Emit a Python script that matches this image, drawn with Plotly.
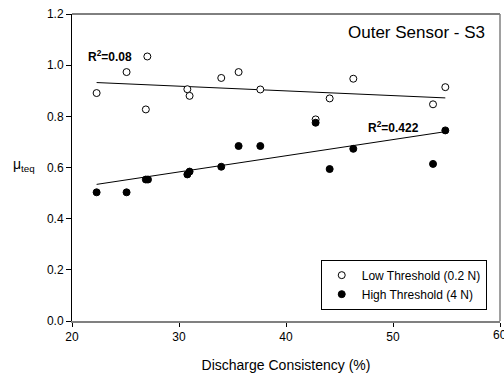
import numpy as np
import plotly.graph_objects as go

# Data
low_x = [22.3, 25.1, 27.04, 26.9, 30.78, 30.99, 33.95, 35.57, 37.6, 42.77, 44.08, 46.29, 53.74, 54.89]
low_y = [0.891, 0.973, 1.034, 0.827, 0.906, 0.880, 0.950, 0.973, 0.905, 0.788, 0.870, 0.947, 0.847, 0.914]
high_x = [22.3, 25.1, 26.9, 27.1, 30.78, 30.99, 33.95, 35.57, 37.6, 42.77, 44.08, 46.29, 53.74, 54.89]
high_y = [0.503, 0.503, 0.553, 0.553, 0.573, 0.584, 0.603, 0.684, 0.684, 0.775, 0.594, 0.673, 0.614, 0.745]

# regression line end points as drawn in the reference
low_fit_x = [22.3, 54.89]
low_fit_y = [0.932, 0.872]
high_fit_x = [22.3, 54.89]
high_fit_y = [0.534, 0.740]

x_ticks = [20, 30, 40, 50, 60]
y_ticks = [0.0, 0.2, 0.4, 0.6, 0.8, 1.0, 1.2]

FONT = "Liberation Sans, Arial, sans-serif"

fig = go.Figure()
fig.add_trace(go.Scatter(x=low_fit_x, y=low_fit_y, mode="lines",
                         line=dict(color="black", width=1), showlegend=False, hoverinfo="skip"))
fig.add_trace(go.Scatter(x=high_fit_x, y=high_fit_y, mode="lines",
                         line=dict(color="black", width=1), showlegend=False, hoverinfo="skip"))
fig.add_trace(go.Scatter(x=low_x, y=low_y, mode="markers", name="Low Threshold (0.2 N)",
                         marker=dict(symbol="circle", size=7, color="white",
                                     line=dict(color="black", width=1))))
fig.add_trace(go.Scatter(x=high_x, y=high_y, mode="markers", name="High Threshold (4 N)",
                         marker=dict(symbol="circle", size=7, color="black",
                                     line=dict(color="black", width=1))))

fig.update_layout(
    width=504, height=373,
    margin=dict(l=72, r=4, t=14, b=52, autoexpand=False),
    paper_bgcolor="white", plot_bgcolor="white",
    font=dict(family=FONT, size=12, color="black"),
    xaxis=dict(range=[20, 60], tickvals=x_ticks, ticktext=[str(v) for v in x_ticks],
               showgrid=False, zeroline=False, showline=True, linecolor="#808080", linewidth=2,
               ticks="outside", ticklen=4, tickcolor="black", tickfont=dict(size=12),
               title=dict(text="Discharge Consistency (%)", font=dict(size=14), standoff=17)),
    yaxis=dict(range=[0, 1.2], tickvals=y_ticks, ticktext=[f"{v:.1f}" for v in y_ticks],
               showgrid=False, zeroline=False, showline=True, linecolor="black", linewidth=1,
               ticks="outside", ticklen=5, tickcolor="black", tickfont=dict(size=12)),
    legend=dict(x=0.969, y=0.037, xanchor="right", yanchor="bottom",
                bordercolor="black", borderwidth=1, bgcolor="white",
                font=dict(size=12), itemwidth=30, tracegroupgap=0),
    showlegend=True,
)

fig.add_shape(type="line", xref="paper", yref="paper", x0=0, x1=1, y0=1, y1=1,
              line=dict(color="black", width=1))
fig.add_shape(type="line", xref="paper", yref="paper", x0=1, x1=1, y0=0, y1=1,
              line=dict(color="#808080", width=1.5))

# the last tick label, cut at the window edge as in the reference
fig.add_annotation(x=x_ticks[-1], y=0, xref="x", yref="paper", xanchor="center", yanchor="top",
                   yshift=-5, text=str(x_ticks[-1]), showarrow=False, font=dict(size=12))

fig.add_annotation(x=0.969, y=0.941, xref="paper", yref="paper", xanchor="right", yanchor="middle",
                   text="Outer Sensor - S3", showarrow=False, font=dict(size=17))
fig.add_annotation(x=21.3, y=1.036, xref="x", yref="y", xanchor="left", yanchor="middle",
                   text="<b>R<sup>2</sup>=0.08</b>", showarrow=False, font=dict(size=12))
fig.add_annotation(x=47.45, y=0.758, xref="x", yref="y", xanchor="left", yanchor="middle",
                   text="<b>R<sup>2</sup>=0.422</b>", showarrow=False, font=dict(size=12))
fig.add_annotation(x=-0.112, y=0.61, xref="paper", yref="y", xanchor="center", yanchor="middle",
                   text="μ<sub>teq</sub>", showarrow=False, font=dict(size=14))

fig.write_html("out.html", config={"displayModeBar": False},
               post_script="document.body.style.margin='0px';")
